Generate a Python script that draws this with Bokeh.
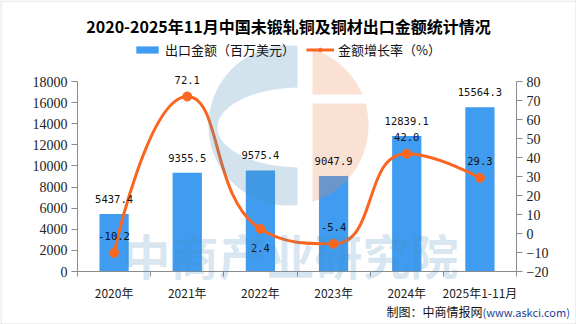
import math
from bokeh.plotting import figure
from bokeh.models import (Range1d, LinearAxis, FixedTicker, Label, LabelSet,
                          ColumnDataSource, Legend, LegendItem, BoxAnnotation)
from bokeh.core.properties import value
from bokeh.embed import file_html
from bokeh.resources import INLINE

# ---------------- data ----------------
title_text = "2020-2025年11月中国未锻轧铜及铜材出口金额统计情况"
categories = ["2020年", "2021年", "2022年", "2023年", "2024年", "2025年1-11月"]
export_value = [5437.4, 9355.5, 9575.4, 9047.9, 12839.1, 15564.3]   # 百万美元
growth_rate = [-10.2, 72.1, 2.4, -5.4, 42.0, 29.3]                  # %
growth_label_side = ["top", "top", "bottom", "top", "top", "top"]
left_ticks = [0, 2000, 4000, 6000, 8000, 10000, 12000, 14000, 16000, 18000]
right_ticks = [-20, -10, 0, 10, 20, 30, 40, 50, 60, 70, 80]
series_names = ["出口金额（百万美元）", "金额增长率（%）"]
source_note = "制图：中商情报网"
source_url = "(www.askci.com)"
watermark_text = "中商产业研究院"

# ---------------- layout / style ----------------
W, H = 576, 324
PL, PR, PT, PB = 77, 516, 81, 271      # plot area (axes) in canvas px
BAR = "#3f9cf1"
LINE = "#fa661f"
AXIS = "#8c8c8c"
CJK = "Noto Sans CJK SC"
NUM = "DejaVu Sans Mono"

n = len(categories)
x_per_px = n / (PR - PL)
L_MIN, L_MAX = min(left_ticks), max(left_ticks)
R_MIN, R_MAX = min(right_ticks), max(right_ticks)
l_per_px = (L_MAX - L_MIN) / (PB - PT)
r_per_px = (R_MAX - R_MIN) / (PB - PT)


def dx(px):
    return (px - PL) * x_per_px


def dy(py):
    return L_MIN + (PB - py) * l_per_px


def dyr(py):
    return R_MIN + (PB - py) * r_per_px


# the frame covers the whole canvas; axes sit at fixed data locations
p = figure(width=W, height=H, output_backend="svg", toolbar_location=None,
           x_range=Range1d(dx(0), dx(W)), y_range=Range1d(dy(H), dy(0)),
           min_border=0, min_border_left=0, min_border_right=0,
           min_border_top=0, min_border_bottom=0)
p.extra_y_ranges = {"r": Range1d(dyr(H), dyr(0))}
p.title.visible = False
p.grid.visible = False
p.outline_line_color = None
p.background_fill_color = "white"
p.border_fill_color = "white"

# axes
xc = [i + 0.5 for i in range(n)]
xa = p.xaxis[0]
xa.fixed_location = L_MIN
xa.bounds = (0, n)
xa.ticker = FixedTicker(ticks=xc, minor_ticks=list(range(n + 1)))
xa.major_label_overrides = {x: c for x, c in zip(xc, categories)}
xa.major_tick_out = 0
xa.major_tick_in = 0
xa.minor_tick_out = 5
xa.minor_tick_in = 0
xa.major_label_standoff = 7
xa.major_label_text_font = CJK
xa.major_label_text_font_size = "12px"
xa.major_label_text_color = "#222222"
xa.axis_line_color = AXIS
xa.minor_tick_line_color = AXIS

ya = p.yaxis[0]
ya.fixed_location = 0
ya.ticker = FixedTicker(ticks=left_ticks)
ya.bounds = (L_MIN, L_MAX)
ra = LinearAxis(y_range_name="r", ticker=FixedTicker(ticks=right_ticks),
                bounds=(R_MIN, R_MAX), fixed_location=n)
p.add_layout(ra, "right")
for ax in (ya, ra):
    ax.major_tick_out = 6
    ax.major_tick_in = 0
    ax.minor_tick_out = 0
    ax.minor_tick_in = 0
    ax.major_label_standoff = 4
    ax.axis_line_color = AXIS
    ax.major_tick_line_color = AXIS
    ax.major_label_text_font = "Liberation Serif"
    ax.major_label_text_font_size = "14px"
    ax.major_label_text_color = "#222222"

# bars
bar_src = ColumnDataSource(dict(x=xc, top=export_value,
                                label=[f"{v:.1f}" for v in export_value]))
bars = p.vbar(x="x", top="top", width=0.4, source=bar_src,
              fill_color=BAR, line_color=None)
p.add_layout(LabelSet(x="x", y="top", text="label", source=bar_src,
                      y_offset=15, text_align="center", text_baseline="middle",
                      text_font=value(NUM), text_font_size="10.5px",
                      text_color="#111111"))

# smoothed growth line: bezier control points as echarts' smooth line computes them
smooth = 0.5
px = [PL + x / x_per_px for x in xc]
py = [PB - (g - R_MIN) / r_per_px for g in growth_rate]
segs = dict(x0=[], y0=[], x1=[], y1=[], cx0=[], cy0=[], cx1=[], cy1=[])
cpx0, cpy0 = px[0], py[0]
for i in range(1, n):
    x, y = px[i], py[i]
    prx, pry = px[i - 1], py[i - 1]
    ncx, ncy = x, y
    if i == n - 1:
        cpx1, cpy1 = x, y
    else:
        nx, ny = px[i + 1], py[i + 1]
        vx, vy = nx - prx, ny - pry
        lp = math.hypot(x - prx, y - pry)
        ln = math.hypot(nx - x, ny - y)
        ratio = ln / (ln + lp)
        ncx, ncy = x + vx * smooth * ratio, y + vy * smooth * ratio
        ncx = max(min(ncx, max(nx, x)), min(nx, x))
        ncy = max(min(ncy, max(ny, y)), min(ny, y))
        vx, vy = ncx - x, ncy - y
        cpx1, cpy1 = x - vx * lp / ln, y - vy * lp / ln
        cpx1 = max(min(cpx1, max(prx, x)), min(prx, x))
        cpy1 = max(min(cpy1, max(pry, y)), min(pry, y))
        vx, vy = x - cpx1, y - cpy1
        ncx, ncy = x + vx * ln / lp, y + vy * ln / lp
    segs["x0"].append(dx(prx)); segs["y0"].append(dyr(pry))
    segs["x1"].append(dx(x)); segs["y1"].append(dyr(y))
    segs["cx0"].append(dx(cpx0)); segs["cy0"].append(dyr(cpy0))
    segs["cx1"].append(dx(cpx1)); segs["cy1"].append(dyr(cpy1))
    cpx0, cpy0 = ncx, ncy

curve = p.bezier(x0="x0", y0="y0", x1="x1", y1="y1", cx0="cx0", cy0="cy0",
                 cx1="cx1", cy1="cy1", source=ColumnDataSource(segs),
                 y_range_name="r", line_color=LINE, line_width=3)
line_src = ColumnDataSource(dict(
    x=xc, y=growth_rate, label=[f"{g:.1f}" for g in growth_rate],
    yoff=[17 if s == "top" else -19 for s in growth_label_side]))
dots = p.scatter(x="x", y="y", source=line_src, y_range_name="r", size=9,
                 fill_color=LINE, line_color=LINE)
p.add_layout(LabelSet(x="x", y="y", text="label", source=line_src,
                      y_range_name="r", y_offset="yoff", text_align="center",
                      text_baseline="middle", text_font=value(NUM),
                      text_font_size="10.5px", text_color="#111111"))

# watermark logo (semi-transparent, on top of the data)
CX, CY, RR = 288, 125, 80
GAP_L, GAP_R = 297, 312
EX, EY, EA, EB = 300, 127, 83, 40
blue_pts = []
t1 = math.acos((GAP_L - CX) / RR)
for k in range(61):
    t = t1 + (2 * math.pi - 2 * t1) * k / 60
    blue_pts.append((CX + RR * math.cos(t), CY - RR * math.sin(t)))
s_top = math.acos((GAP_L - EX) / EA)
for k in range(61):
    s = (2 * math.pi - s_top) - (2 * math.pi - 2 * s_top) * k / 60
    blue_pts.append((EX + EA * math.cos(s), EY - EB * math.sin(s)))
p.patch([dx(a) for a, _ in blue_pts], [dy(b) for _, b in blue_pts],
        fill_color="#4b8fbb", fill_alpha=0.25, line_color=None)

BAR_T, BAR_B = 94, 103
t_top = math.acos((GAP_R - CX) / RR)
t_bt = math.asin((CY - BAR_T) / RR)
t_bb = -math.asin((BAR_B - CY) / RR)
up = [(GAP_R, BAR_T)]
for k in range(41):
    t = t_top + (t_bt - t_top) * k / 40
    up.append((CX + RR * math.cos(t), CY - RR * math.sin(t)))
lo = [(GAP_R, BAR_B)]
for k in range(61):
    t = t_bb + (-t_top - t_bb) * k / 60
    lo.append((CX + RR * math.cos(t), CY - RR * math.sin(t)))
for poly in (up, lo):
    p.patch([dx(a) for a, _ in poly], [dy(b) for _, b in poly],
            fill_color="#ef8353", fill_alpha=0.25, line_color=None)

p.add_layout(Label(x=dx(290), y=dy(253), text=watermark_text,
                   text_align="center", text_baseline="middle",
                   text_font=CJK, text_font_style="bold",
                   text_font_size="48px", text_color="#4b8fbb",
                   text_alpha=0.22))

# legend
legend = Legend(items=[LegendItem(label=series_names[0], renderers=[bars]),
                       LegendItem(label=series_names[1], renderers=[curve, dots])],
                orientation="horizontal", location=(133, 265),
                padding=0, margin=0, spacing=11, label_standoff=4,
                glyph_width=28, glyph_height=9, label_height=12,
                label_text_font=CJK, label_text_font_size="13px",
                label_text_color="#111111",
                background_fill_alpha=0, border_line_alpha=0)
p.add_layout(legend)

# title and source note
p.add_layout(Label(x=dx(288), y=dy(25), text=title_text, text_align="center",
                   text_baseline="middle", text_font=CJK,
                   text_font_style="bold", text_font_size="16px",
                   text_color="#000000"))
p.add_layout(Label(x=dx(482), y=dy(311), text=source_note, text_align="right",
                   text_baseline="middle", text_font=CJK,
                   text_font_size="12px", text_color="#111111"))
p.add_layout(Label(x=dx(482), y=dy(311), text=source_url, text_align="left",
                   text_baseline="middle", text_font=CJK,
                   text_font_size="11px", text_color="#1c3f95"))

# outer frame line
p.add_layout(BoxAnnotation(left=dx(0.5), right=dx(W - 0.5), top=dy(0.5),
                           bottom=dy(H - 0.5), fill_alpha=0,
                           line_color="#8c8c8c", line_width=1))

open("out.html", "w").write(file_html(p, INLINE))
